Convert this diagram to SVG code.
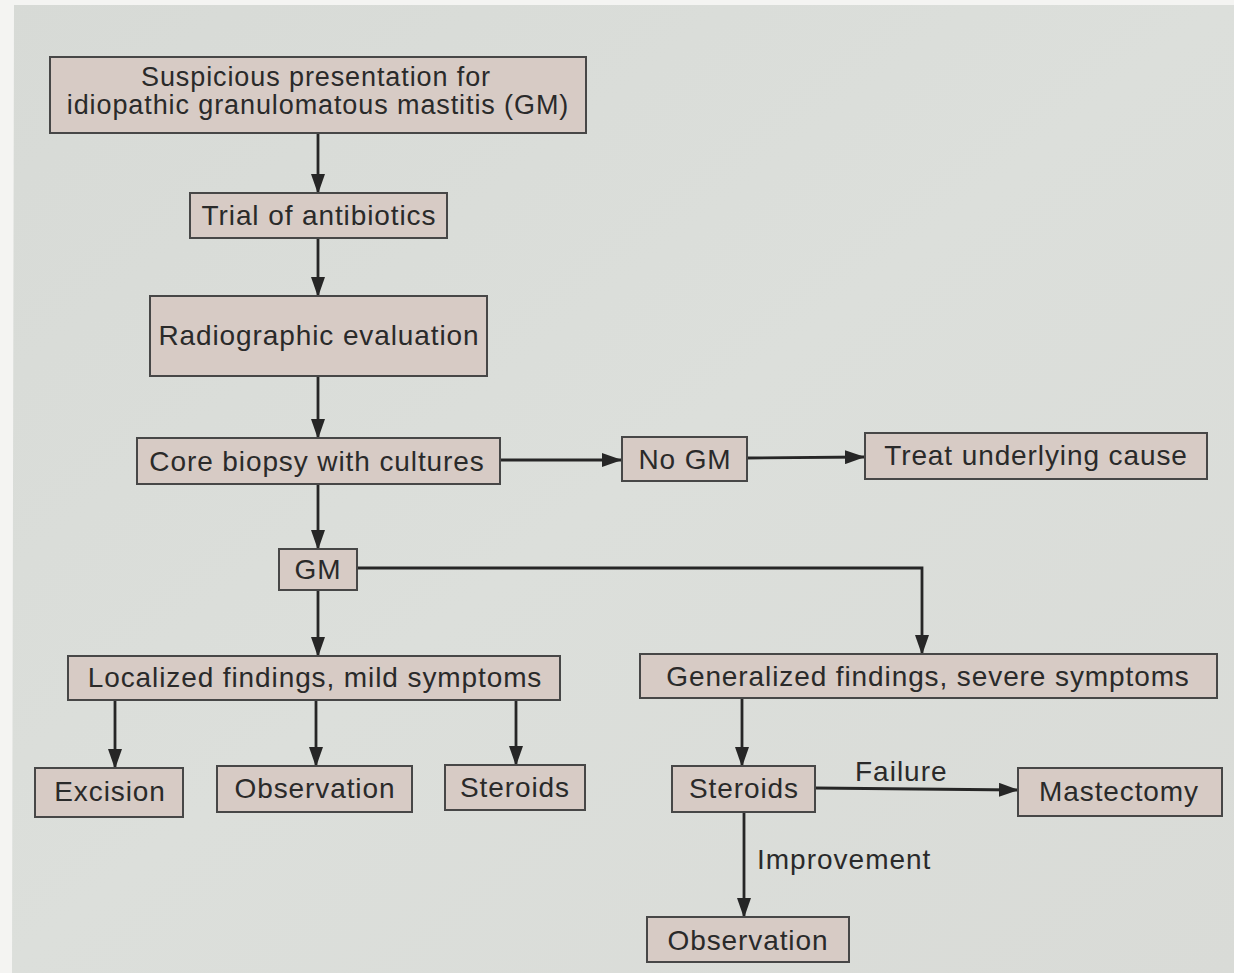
<svg xmlns="http://www.w3.org/2000/svg" width="1234" height="973" viewBox="0 0 1234 973">
<defs>
<linearGradient id="bg" x1="0" y1="0" x2="1" y2="1">
<stop offset="0" stop-color="#d7dad6"/>
<stop offset="0.5" stop-color="#dcdfdb"/>
<stop offset="1" stop-color="#d9dbd7"/>
</linearGradient>
<marker id="ah" markerWidth="20" markerHeight="14" refX="19" refY="7" orient="auto" markerUnits="userSpaceOnUse">
<path d="M0,0 L20,7 L0,14 Z" fill="#262626"/>
</marker>
<style>
.box{fill:#d7cbc5;stroke:#474747;stroke-width:2}
.t{font-family:"Liberation Sans",Arial,sans-serif;font-size:28px;letter-spacing:0.9px;fill:#2a2a2a;text-anchor:middle}
.t1{letter-spacing:0.9px;font-size:27px}
.lbl{font-family:"Liberation Sans",Arial,sans-serif;font-size:28px;letter-spacing:1px;fill:#2a2a2a}
.c{fill:none;stroke:#262626;stroke-width:2.6}
.ca{fill:none;stroke:#262626;stroke-width:2.8;marker-end:url(#ah)}
</style>
</defs>
<rect width="1234" height="973" fill="url(#bg)"/>
<path d="M0,0 H1234 V5 H14 L12,973 H0 Z" fill="#f4f4f2"/>

<g id="connectors">
<line class="ca" x1="318" y1="134" x2="318" y2="193"/>
<line class="ca" x1="318" y1="238" x2="318" y2="296"/>
<line class="ca" x1="318" y1="376" x2="318" y2="438"/>
<line class="ca" x1="500" y1="460" x2="621" y2="460"/>
<line class="ca" x1="747" y1="458" x2="864" y2="457"/>
<line class="ca" x1="318" y1="484" x2="318" y2="549"/>
<path class="ca" d="M357,568 H922 V654"/>
<line class="ca" x1="318" y1="590" x2="318" y2="656"/>
<line class="ca" x1="115" y1="700" x2="115" y2="768"/>
<line class="ca" x1="316" y1="700" x2="316" y2="766"/>
<line class="ca" x1="516" y1="700" x2="516" y2="765"/>
<line class="ca" x1="742" y1="698" x2="742" y2="766"/>
<line class="ca" x1="815" y1="788" x2="1018" y2="790"/>
<line class="ca" x1="744" y1="812" x2="744" y2="917"/>
<text class="lbl" x="855" y="781">Failure</text>
<text class="lbl" x="757" y="869">Improvement</text>
</g>

<g id="n1"><rect class="box" x="50" y="57" width="536" height="76"/>
<text class="t t1" x="316" y="86">Suspicious presentation for</text>
<text class="t t1" x="318" y="114">idiopathic granulomatous mastitis (GM)</text></g>
<g id="n2"><rect class="box" x="190" y="193" width="257" height="45"/>
<text class="t" x="319" y="225">Trial of antibiotics</text></g>
<g id="n3"><rect class="box" x="150" y="296" width="337" height="80"/>
<text class="t" x="319" y="345">Radiographic evaluation</text></g>
<g id="n4"><rect class="box" x="137" y="438" width="363" height="46"/>
<text class="t" x="317" y="471">Core biopsy with cultures</text></g>
<g id="n5"><rect class="box" x="622" y="437" width="125" height="44"/>
<text class="t" x="685" y="469">No GM</text></g>
<g id="n6"><rect class="box" x="865" y="433" width="342" height="46"/>
<text class="t" x="1036" y="465">Treat underlying cause</text></g>
<g id="n7"><rect class="box" x="279" y="549" width="78" height="41"/>
<text class="t" x="318" y="579">GM</text></g>
<g id="n8"><rect class="box" x="68" y="656" width="492" height="44"/>
<text class="t" x="315" y="687">Localized findings, mild symptoms</text></g>
<g id="n9"><rect class="box" x="640" y="654" width="577" height="44"/>
<text class="t" x="928" y="686">Generalized findings, severe symptoms</text></g>
<g id="n10"><rect class="box" x="35" y="768" width="148" height="49"/>
<text class="t" x="110" y="801">Excision</text></g>
<g id="n11"><rect class="box" x="217" y="766" width="195" height="46"/>
<text class="t" x="315" y="798">Observation</text></g>
<g id="n12"><rect class="box" x="445" y="765" width="140" height="45"/>
<text class="t" x="515" y="797">Steroids</text></g>
<g id="n13"><rect class="box" x="672" y="766" width="143" height="46"/>
<text class="t" x="744" y="798">Steroids</text></g>
<g id="n14"><rect class="box" x="1018" y="768" width="204" height="48"/>
<text class="t" x="1119" y="801">Mastectomy</text></g>
<g id="n15"><rect class="box" x="647" y="917" width="202" height="45"/>
<text class="t" x="748" y="950">Observation</text></g>
</svg>
